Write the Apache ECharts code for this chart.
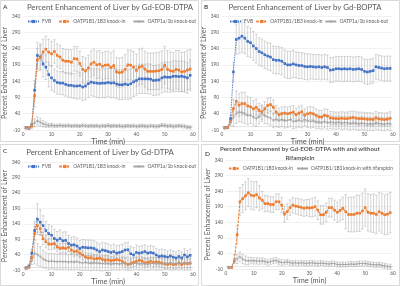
<!DOCTYPE html>
<html>
<head>
<meta charset="utf-8">
<script src="https://cdn.jsdelivr.net/npm/echarts@6/dist/echarts.min.js"></script>
<style>
  html, body { margin: 0; padding: 0; background: #fff; }
  #chart { width: 400px; height: 286px; }
</style>
</head>
<body>
<div id="chart"></div>
<script>
// time points (min)
const minutes = [1,2,3,4,5,6,7,8,9,10,11,12,13,14,15,16,17,18,19,20,21,22,23,24,25,26,27,28,29,30,
  31,32,33,34,35,36,37,38,39,40,41,42,43,44,45,46,47,48,49,50,51,52,53,54,55,56,57,58,59]
const yTicks = [-10, 40, 90, 140, 190, 240, 290, 340]

// A: Gd-EOB-DTPA
const aFvb = [-3,-4,5,112,219,214,193,183,160,150,142,136,134,134,130,127,127,125,125,126,122,125,132,137,135,134,133,134,134,136,
  134,135,131,129,129,131,129,132,138,142,147,147,147,147,146,142,143,144,150,153,152,152,155,155,154,155,153,150,158]
const aFvbErr = [3,3,6,30,40,40,40,38,38,38,35,35,35,36,36,36,38,38,40,40,42,42,42,42,42,44,44,44,44,44,
  45,45,45,46,46,46,46,46,45,45,45,45,45,46,46,46,46,46,46,46,46,46,47,47,47,47,47,47,47]
const aKi = [-3,-4,2,95,205,213,229,238,229,224,231,219,214,204,201,201,198,209,208,194,176,172,180,193,198,190,192,186,189,190,
  182,188,168,166,168,176,190,189,183,173,183,186,177,170,170,170,171,172,176,189,176,172,170,176,174,168,170,174,177]
const aKiErr = [3,3,8,35,35,38,40,40,40,38,36,36,36,36,36,36,38,38,38,38,40,40,40,40,40,42,42,42,42,42,
  45,45,45,45,45,46,46,46,48,50,55,55,55,56,56,56,57,57,57,58,58,58,58,58,60,60,60,60,60]
const aKo = [-5,-6,6,12,18,14,9,6,4,5,3,3,4,3,3,4,2,3,3,2,4,3,2,3,2,3,1,3,2,4,
  2,3,2,3,1,2,3,2,3,1,2,3,2,1,3,2,1,2,5,4,2,3,1,2,3,2,1,-1,-2]
const aKoErr = [2,2,6,12,12,12,10,8,6,6,5,5,5,5,5,5,5,5,5,5,5,5,5,5,5,5,5,5,5,5,
  5,5,5,5,5,5,5,5,5,5,5,5,5,5,5,5,5,5,5,5,5,5,5,5,5,5,5,5,5]

// B: Gd-BOPTA
const bFvb = [-3,-2,25,168,268,272,278,272,262,258,248,240,231,227,221,217,214,206,204,204,201,194,190,190,193,190,188,188,185,184,
  185,184,183,184,182,184,182,174,175,178,178,177,178,177,178,176,177,178,176,170,168,170,172,184,182,180,178,179,179]
const bFvbErr = [3,3,10,30,45,48,50,48,46,45,44,44,42,42,42,42,42,42,42,42,42,42,42,42,42,40,40,40,40,40,
  38,38,38,38,38,38,38,38,38,38,38,38,38,38,38,38,38,38,38,38,38,38,38,38,38,38,38,38,38]
const bKi = [-3,-2,18,55,78,66,71,71,64,61,55,60,50,45,55,65,68,60,45,37,40,42,40,42,45,37,42,46,35,40,
  42,40,35,30,30,35,33,27,26,25,25,26,25,25,27,28,26,25,25,24,23,23,22,27,24,23,22,23,26]
const bKiErr = [3,3,8,28,32,35,35,35,30,28,25,25,22,22,22,22,22,22,20,20,20,20,20,20,20,20,20,20,20,20,
  20,20,20,20,20,20,20,20,20,20,20,20,20,20,20,20,20,20,20,20,20,20,20,20,20,20,20,20,20]
const bKo = [-4,-3,12,30,40,45,44,40,35,36,30,25,32,40,34,30,27,20,22,20,22,18,20,22,16,18,20,17,22,18,
  16,18,14,15,13,16,12,14,13,12,14,11,13,12,10,12,11,9,11,10,8,9,8,12,10,9,8,10,9]
const bKoErr = [3,3,10,28,30,30,30,30,28,26,25,24,24,24,24,22,22,22,22,22,22,22,22,22,22,22,22,20,20,20,
  20,20,20,20,20,20,20,20,20,20,20,20,20,20,20,20,20,20,20,20,20,20,20,20,20,20,20,20,20]

// C: Gd-DTPA
const cFvb = [-3,3,45,118,155,145,134,118,108,103,92,87,92,85,86,76,71,72,68,60,64,63,62,62,60,55,50,55,53,50,
  47,50,45,47,50,55,56,43,39,47,45,47,50,45,47,45,39,34,36,34,32,36,32,29,34,29,39,33,38]
const cFvbErr = [3,3,12,30,50,40,32,30,30,30,30,28,28,28,28,26,26,26,26,26,25,25,25,25,25,25,25,25,25,25,
  24,24,24,24,24,24,24,24,24,24,22,22,22,22,22,22,22,22,22,22,20,20,20,20,20,20,20,20,20]
const cKi = [-3,0,30,108,134,124,92,82,74,74,76,66,60,62,60,64,55,50,52,45,39,32,29,30,26,27,29,24,22,23,
  20,22,24,22,18,13,8,11,15,18,22,19,13,15,18,15,17,15,13,10,8,11,8,9,13,8,12,11,12]
const cKiErr = [3,3,10,22,22,22,20,20,18,18,18,16,16,16,16,15,15,15,15,15,15,15,15,15,15,14,14,14,14,14,
  14,14,14,14,14,14,14,14,14,14,14,14,14,14,14,14,14,14,14,14,14,14,14,14,14,14,14,14,14]
const cKo = [-4,-2,20,45,40,34,26,22,18,19,18,17,18,17,18,16,17,16,18,15,13,14,13,12,14,13,12,11,13,12,
  10,12,11,10,12,11,9,10,11,12,10,11,10,9,11,12,10,11,10,12,13,11,10,12,11,13,10,11,12]
const cKoErr = [3,3,12,35,35,32,28,26,26,25,25,25,25,25,25,25,25,25,25,25,24,24,24,24,24,24,24,24,24,24,
  20,20,20,20,20,20,20,20,20,20,20,20,20,20,20,20,20,20,20,20,20,20,20,20,20,20,20,20,20]

// D: Gd-EOB-DTPA with and without rifampicin
const dKi = [-5,-5,16,100,206,216,225,235,227,225,229,218,211,200,200,197,197,206,206,195,166,174,187,195,192,190,188,185,187,186,
  187,190,179,164,164,172,187,187,179,172,178,185,174,165,165,165,169,169,176,187,172,169,169,165,174,169,164,166,171]
const dKiErr = [3,3,8,30,45,45,45,45,45,45,42,40,28,26,25,25,25,25,25,25,25,25,25,25,25,26,26,26,26,28,
  30,30,30,30,30,30,30,30,32,32,34,36,55,55,56,56,58,58,58,60,60,60,62,62,62,64,64,65,65]
const dRif = [-5,-5,22,22,29,22,18,16,17,16,16,15,16,14,11,14,16,18,13,11,11,13,10,9,10,8,10,9,8,9,
  10,8,7,9,8,7,6,8,7,5,4,5,4,5,6,5,6,8,7,8,6,5,4,3,4,2,0,-2,-3]
const dRifErr = [3,3,15,15,16,15,14,12,10,10,10,10,10,9,9,9,9,9,9,9,8,8,8,8,8,8,8,8,8,8,
  8,8,8,8,8,8,8,8,8,8,8,8,8,8,8,8,8,8,8,8,8,8,8,8,8,8,8,8,8]

const BLUE = '#4472C4'
const ORANGE = '#ED7D31'
const GRAY = '#A5A5A5'
const TXT = '#595959'
const FONT = 'Lato'

const plusPath = 'path://M4,0H6V4H10V6H6V10H4V6H0V4H4Z'

const grids = [
  { left: 23, top: 16, width: 170, height: 114 },
  { left: 222, top: 16, width: 171, height: 114 },
  { left: 23, top: 162, width: 170, height: 111 },
  { left: 226, top: 160, width: 167, height: 109 },
]

function pairs(vals) {
  return minutes.map((t, i) => [t, vals[i]])
}

function lineSeries(name, vals, kind, g) {
  const s = {
    name: name, type: 'line', xAxisIndex: g, yAxisIndex: g,
    data: pairs(vals), z: 3,
    symbolSize: 2.6, showSymbol: true, animation: false,
  }
  if (kind === 'fvb') {
    s.itemStyle = { color: BLUE }
    s.symbol = 'rect'
    s.lineStyle = { color: BLUE, width: 0.9, type: [1.5, 1] }
  } else if (kind === 'ki') {
    s.itemStyle = { color: ORANGE }
    s.symbol = 'rect'
    s.lineStyle = { color: ORANGE, width: 1.1, type: [2.5, 1.2] }
  } else {
    s.itemStyle = { color: GRAY }
    s.symbol = plusPath
    s.symbolSize = 3.2
    s.lineStyle = { color: GRAY, width: 0.8 }
  }
  return s
}

function errSeries(vals, errs, g) {
  return {
    type: 'custom', xAxisIndex: g, yAxisIndex: g, z: 2, animation: false,
    data: minutes.map((t, i) => [t, vals[i] - errs[i], vals[i] + errs[i]]),
    renderItem: function (params, api) {
      const top = api.coord([api.value(0), api.value(2)])
      const bot = api.coord([api.value(0), api.value(1)])
      const w = 1.3
      const st = { stroke: '#ABABAB', lineWidth: 0.5 }
      return {
        type: 'group',
        children: [
          { type: 'line', shape: { x1: top[0], y1: top[1], x2: bot[0], y2: bot[1] }, style: st },
          { type: 'line', shape: { x1: top[0] - w, y1: top[1], x2: top[0] + w, y2: top[1] }, style: st },
          { type: 'line', shape: { x1: bot[0] - w, y1: bot[1], x2: bot[0] + w, y2: bot[1] }, style: st },
        ]
      }
    }
  }
}

const xAxes = grids.map((g, i) => ({
  type: 'value', gridIndex: i, min: 0, max: 60, interval: 10,
  name: 'Time (min)', nameLocation: 'middle', nameGap: 7,
  nameTextStyle: { fontSize: 7.4, color: TXT, fontFamily: FONT },
  axisLine: { lineStyle: { color: '#D9D9D9', width: 0.7 } },
  axisTick: { show: false },
  axisLabel: { fontSize: 4.8, color: TXT, margin: 2, fontFamily: FONT },
  splitLine: { show: false },
}))

const yAxes = grids.map((g, i) => ({
  type: 'value', gridIndex: i, min: yTicks[0], max: yTicks[yTicks.length - 1], interval: 50,
  name: 'Percent Enhancement of Liver', nameLocation: 'middle', nameGap: 11,
  nameTextStyle: { fontSize: 7, color: TXT, fontFamily: FONT },
  axisLine: { show: false },
  axisTick: { show: false },
  axisLabel: { fontSize: 4.8, color: TXT, margin: 3, fontFamily: FONT },
  splitLine: { lineStyle: { color: '#E3E3E3', width: 0.5 } },
}))

const series = [
  errSeries(aFvb, aFvbErr, 0), errSeries(aKi, aKiErr, 0), errSeries(aKo, aKoErr, 0),
  lineSeries('FVB', aFvb, 'fvb', 0),
  lineSeries('OATP1B1/1B3 knock-in', aKi, 'ki', 0),
  lineSeries('OATP1a/1b knock-out', aKo, 'ko', 0),

  errSeries(bFvb, bFvbErr, 1), errSeries(bKi, bKiErr, 1), errSeries(bKo, bKoErr, 1),
  lineSeries('FVB', bFvb, 'fvb', 1),
  lineSeries('OATP1B1/1B3 knock-in', bKi, 'ki', 1),
  lineSeries('OATP1a/1b knock-out', bKo, 'ko', 1),

  errSeries(cFvb, cFvbErr, 2), errSeries(cKi, cKiErr, 2), errSeries(cKo, cKoErr, 2),
  lineSeries('FVB', cFvb, 'fvb', 2),
  lineSeries('OATP1B1/1B3 knock-in', cKi, 'ki', 2),
  lineSeries('OATP1a/1b knock-out', cKo, 'ko', 2),

  errSeries(dKi, dKiErr, 3), errSeries(dRif, dRifErr, 3),
  lineSeries('OATP1B1/1B3 knock-in', dKi, 'ki', 3),
  lineSeries('OATP1B1/1B3 knock-in with rifampicin', dRif, 'ko', 3),
]

const legendBase = {
  itemWidth: 11, itemHeight: 4, itemGap: 7, width: 240,
  textStyle: { fontSize: 4.9, color: TXT, fontFamily: FONT, padding: [0, 0, 0, -2] },
  selectedMode: false, padding: 0,
}

const titleStyle = { fontSize: 7.8, color: TXT, fontFamily: FONT, fontWeight: 'normal' }
const letterStyle = { fontSize: 6.5, color: '#222', fontFamily: FONT, fontWeight: 'normal' }

const option = {
  animation: false,
  backgroundColor: '#fff',
  graphic: [
    { type: 'rect', shape: { x: 0.5, y: 0.5, width: 198, height: 141 }, style: { fill: 'none', stroke: '#D0D0D0', lineWidth: 0.8 } },
    { type: 'rect', shape: { x: 201.5, y: 0.5, width: 198, height: 141 }, style: { fill: 'none', stroke: '#D0D0D0', lineWidth: 0.8 } },
    { type: 'rect', shape: { x: 0.5, y: 144.5, width: 198, height: 141 }, style: { fill: 'none', stroke: '#D0D0D0', lineWidth: 0.8 } },
    { type: 'rect', shape: { x: 201.5, y: 144.5, width: 198, height: 141 }, style: { fill: 'none', stroke: '#D0D0D0', lineWidth: 0.8 } },
  ],
  title: [
    { text: 'A', left: 3, top: 3, padding: 0, textStyle: letterStyle },
    { text: 'B', left: 204, top: 3, padding: 0, textStyle: letterStyle },
    { text: 'C', left: 3, top: 147, padding: 0, textStyle: letterStyle },
    { text: 'D', left: 205, top: 150, padding: 0, textStyle: letterStyle },
    { text: 'Percent Enhancement of Liver by Gd-EOB-DTPA', left: 110, top: 3, textAlign: 'center', padding: 0, textStyle: titleStyle },
    { text: 'Percent Enhancement of Liver by Gd-BOPTA', left: 305, top: 3, textAlign: 'center', padding: 0, textStyle: titleStyle },
    { text: 'Percent Enhancement of Liver by Gd-DTPA', left: 100, top: 148, textAlign: 'center', padding: 0, textStyle: titleStyle },
    { text: 'Percent Enhancement by Gd-EOB-DTPA with and without\nRifampicin', left: 300, top: 145, textAlign: 'center', padding: 0,
      textStyle: { fontSize: 6.2, color: TXT, fontFamily: FONT, fontWeight: 'bold', lineHeight: 8.5 } },
  ],
  legend: [
    Object.assign({}, legendBase, { left: 27, top: 19, data: ['FVB', 'OATP1B1/1B3 knock-in', 'OATP1a/1b knock-out'] }),
    Object.assign({}, legendBase, { left: 229, top: 19, itemGap: 2, data: ['FVB', 'OATP1B1/1B3 knock-in', 'OATP1a/1b knock-out'] }),
    Object.assign({}, legendBase, { left: 27, top: 164, data: ['FVB', 'OATP1B1/1B3 knock-in', 'OATP1a/1b knock-out'] }),
    Object.assign({}, legendBase, { left: 228, top: 166, itemGap: 3,
      textStyle: Object.assign({}, legendBase.textStyle, { fontSize: 4.7 }),
      data: ['OATP1B1/1B3 knock-in', 'OATP1B1/1B3 knock-in with rifampicin'] }),
  ],
  grid: grids,
  xAxis: xAxes,
  yAxis: yAxes,
  series: series,
}

const chart = echarts.init(document.getElementById('chart'), null, { renderer: 'canvas' })
chart.setOption(option)
</script>
</body>
</html>
